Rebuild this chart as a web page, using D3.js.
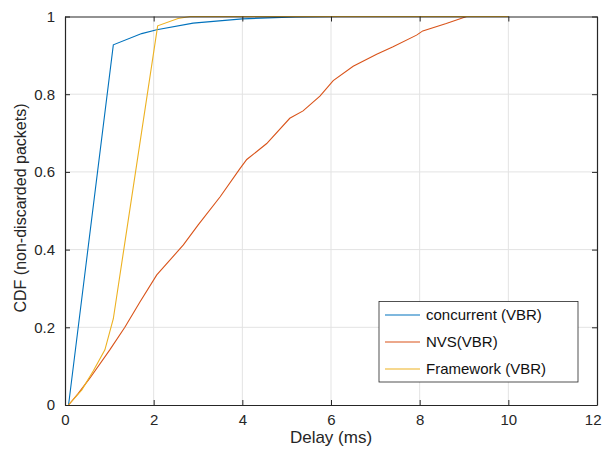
<!DOCTYPE html>
<html>
<head>
<meta charset="utf-8">
<script src="https://cdn.jsdelivr.net/npm/d3@7"></script>
<style>
body { margin: 0; background: white; }
text { font-family: "Liberation Sans", Arial, sans-serif; }
</style>
</head>
<body>
<script>
// delay (ms) / cdf pairs
let concX = [0.08, 1.09, 1.73, 2.07, 2.89, 4.0, 5.2, 6.2, 10.0]
let concY = [0, 0.927, 0.956, 0.966, 0.983, 0.994, 0.999, 1.0, 1.0]
let nvsX = [0.08, 0.3, 0.56, 1.01, 1.35, 1.69, 2.07, 2.67, 3.0, 3.5, 3.95, 4.1, 4.55, 5.07, 5.37, 5.75, 6.05, 6.5, 7.03, 7.4, 7.93, 8.07, 8.6, 9.06, 10.0]
let nvsY = [0, 0.03, 0.069, 0.142, 0.2, 0.265, 0.335, 0.412, 0.463, 0.536, 0.609, 0.632, 0.673, 0.738, 0.757, 0.795, 0.835, 0.872, 0.903, 0.922, 0.952, 0.963, 0.982, 1.0, 1.0]
let fwX = [0.08, 0.38, 0.64, 0.9, 1.09, 2.09, 2.55, 2.82, 10.0]
let fwY = [0, 0.039, 0.088, 0.142, 0.222, 0.976, 0.995, 1.0, 1.0]
let names = ['concurrent (VBR)', 'NVS(VBR)', 'Framework (VBR)']
let colors = ['#0072BD', '#D95319', '#EDB120']
let xTicks = [0, 2, 4, 6, 8, 10, 12]
let yTicks = [0, 0.2, 0.4, 0.6, 0.8, 1]

function main(){
    let svg = d3.select('body').append('svg')
        .attr('width', 602)
        .attr('height', 449)

    let x = d3.scaleLinear().domain([0, 12]).range([65, 597])
    let y = d3.scaleLinear().domain([0, 1]).range([405, 16.5])

    // grid
    svg.append('g').selectAll('line').data(xTicks.slice(1, -1)).enter().append('line')
        .attr('x1', d => x(d)).attr('x2', d => x(d))
        .attr('y1', y(0)).attr('y2', y(1))
        .attr('stroke', '#e3e3e3').attr('stroke-width', 1)
    svg.append('g').selectAll('line').data(yTicks.slice(1, -1)).enter().append('line')
        .attr('x1', x(0)).attr('x2', x(12))
        .attr('y1', d => y(d)).attr('y2', d => y(d))
        .attr('stroke', '#e3e3e3').attr('stroke-width', 1)

    let series = [[concX, concY], [nvsX, nvsY], [fwX, fwY]]
    let line = d3.line().x(d => x(d[0])).y(d => y(d[1]))
    series.forEach(function (s, i) {
        let pts = s[0].map((v, j) => [v, s[1][j]])
        svg.append('path')
            .datum(pts)
            .attr('d', line)
            .attr('fill', 'none')
            .attr('stroke', colors[i])
            .attr('stroke-width', 1.1)
    })

    // axes, ticks inside like matlab
    let fmt = d => d3.format('~g')(d)
    let xb = svg.append('g').attr('transform', `translate(0,${y(0)})`)
        .call(d3.axisBottom(x).tickValues(xTicks).tickSizeInner(-5).tickSizeOuter(0).tickPadding(9).tickFormat(fmt))
    let xt = svg.append('g').attr('transform', `translate(0,${y(1)})`)
        .call(d3.axisTop(x).tickValues(xTicks).tickSizeInner(-5).tickSizeOuter(0).tickFormat(''))
    let yl = svg.append('g').attr('transform', `translate(${x(0)},0)`)
        .call(d3.axisLeft(y).tickValues(yTicks).tickSizeInner(-5).tickSizeOuter(0).tickPadding(10).tickFormat(fmt))
    let yr = svg.append('g').attr('transform', `translate(${x(12)},0)`)
        .call(d3.axisRight(y).tickValues(yTicks).tickSizeInner(-5).tickSizeOuter(0).tickFormat(''))
    ;[xb, xt, yl, yr].forEach(function (a) {
        a.select('.domain').attr('stroke', '#262626').attr('stroke-width', 1.2)
        a.selectAll('.tick line').attr('stroke', '#262626')
        a.selectAll('.tick text').attr('fill', '#262626').attr('font-size', '15px')
            .attr('font-family', '"Liberation Sans", Arial, sans-serif')
    })
    // last x label sits on the page edge, keep it inside
    xb.selectAll('.tick text').filter(d => d === 12)
        .attr('text-anchor', 'end').attr('x', 4)

    svg.append('text')
        .attr('x', (x(0) + x(12)) / 2)
        .attr('y', 443)
        .attr('text-anchor', 'middle')
        .attr('font-size', '17px')
        .attr('fill', '#262626')
        .text('Delay (ms)')
    svg.append('text')
        .attr('transform', `translate(26,208) rotate(-90)`)
        .attr('text-anchor', 'middle')
        .attr('font-size', '16px')
        .attr('fill', '#262626')
        .text('CDF (non-discarded packets)')

    // legend
    let lg = svg.append('g')
    lg.append('rect')
        .attr('x', 379).attr('y', 301.5)
        .attr('width', 199).attr('height', 80.5)
        .attr('fill', 'white')
        .attr('stroke', '#262626').attr('stroke-width', 0.8)
    names.forEach(function (n, i) {
        let ly = 315 + i * 27
        lg.append('line')
            .attr('x1', 385).attr('x2', 420)
            .attr('y1', ly).attr('y2', ly)
            .attr('stroke', colors[i]).attr('stroke-width', 1.1)
        lg.append('text')
            .attr('x', 426).attr('y', ly + 5)
            .attr('font-size', '15px')
            .attr('fill', '#111')
            .text(n)
    })
}

main()
</script>
</body>
</html>
